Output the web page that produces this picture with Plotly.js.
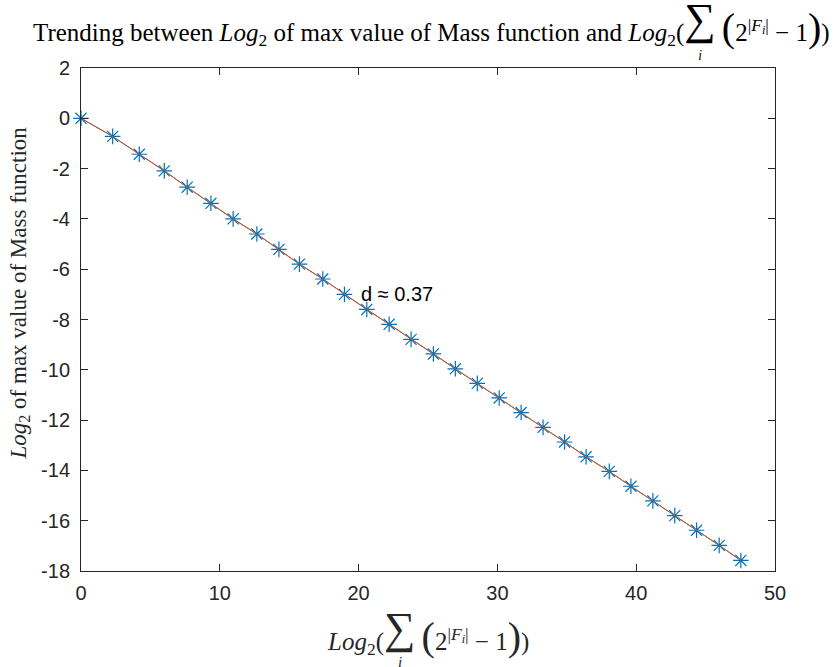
<!DOCTYPE html>
<html>
<head>
<meta charset="utf-8">
<script src="https://cdn.plot.ly/plotly-3.0.1.min.js"></script>
<style>html,body{margin:0;padding:0;background:#fff;}#chart{width:838px;height:667px;}</style>
</head>
<body>
<div id="chart"></div>
<script>
// x: Log2(sum_i (2^|F_i| - 1)),  y: Log2 of max value of Mass function
var xVals = [0, 2.28, 4.20, 6.00, 7.65, 9.36, 10.96, 12.67, 14.26, 15.74,
             17.42, 18.98, 20.59, 22.20, 23.78, 25.39, 26.97, 28.55, 30.13, 31.71,
             33.29, 34.84, 36.39, 38.06, 39.62, 41.20, 42.78, 44.35, 45.98, 47.54];
var yVals = [0, -0.72, -1.43, -2.09, -2.74, -3.38, -4.00, -4.60, -5.21, -5.80,
             -6.39, -7.00, -7.60, -8.19, -8.79, -9.37, -9.96, -10.54, -11.12, -11.70,
             -12.29, -12.87, -13.46, -14.04, -14.63, -15.21, -15.80, -16.38, -16.98, -17.58];
var xTicks = [0, 10, 20, 30, 40, 50];
var xTickText = ['0', '10', '20', '30', '40', '50'];
var yTicks = [2, 0, -2, -4, -6, -8, -10, -12, -14, -16, -18];
var yTickText = ['2', '0', '-2', '-4', '-6', '-8', '-10', '-12', '-14', '-16', '-18'];
var noteX = 20, noteY = -7, noteText = 'd \u2248 0.37';

var axisColor = '#262626';
var traces = [
  {x: xVals, y: yVals, type: 'scatter', mode: 'lines+markers', cliponaxis: false,
   line: {color: '#0072BD', width: 1},
   marker: {symbol: 'asterisk-open', size: 13, line: {color: '#0072BD', width: 1.2}, color: '#0072BD'}},
  {x: xVals, y: yVals, type: 'scatter', mode: 'lines', cliponaxis: false,
   line: {color: '#D95319', width: 1}}
];

var serif = 'Liberation Serif, Times New Roman, serif';
var sumExpr = '<i>Log</i><sub>2</sub>(<span style="font-size:44px;baseline-shift:7px">\u2211</span> <span style="font-size:40px">(</span>2<sup>|<i>F<sub>i</sub></i>|</sup> \u2212 1<span style="font-size:40px">)</span>)';

var M = {l: 81, r: 63, t: 68, b: 96};
var W = 838, H = 667;
var pw = W - M.l - M.r, ph = H - M.t - M.b;
var layout = {
  width: W, height: H,
  margin: M,
  paper_bgcolor: '#fff', plot_bgcolor: '#fff',
  showlegend: false,
  font: {family: 'Liberation Sans, Arial, sans-serif', size: 20, color: axisColor},
  xaxis: {range: [0, 50], tickvals: xTicks, ticktext: xTickText, ticks: 'inside', ticklen: 7,
          tickcolor: axisColor, showline: true, linecolor: axisColor, linewidth: 1, mirror: 'ticks',
          showgrid: false, zeroline: false, ticklabelstandoff: 4, fixedrange: true},
  yaxis: {range: [-18, 2], tickvals: yTicks, ticktext: yTickText, ticks: 'inside', ticklen: 7,
          tickcolor: axisColor, showline: true, linecolor: axisColor, linewidth: 1, mirror: 'ticks',
          showgrid: false, zeroline: false, ticklabelstandoff: 6, fixedrange: true},
  annotations: [
    {x: noteX, y: noteY, xref: 'x', yref: 'y', text: noteText, showarrow: false,
     xanchor: 'left', yanchor: 'middle', font: {size: 20, color: '#000', family: 'Liberation Sans, Arial, sans-serif'}},
    {x: 0.5, y: 1, xref: 'paper', yref: 'paper', yshift: 46, xshift: 3, xanchor: 'center', yanchor: 'middle',
     showarrow: false, text: 'Trending between <i>Log</i><sub>2</sub> of max value of Mass function and ' + sumExpr,
     font: {family: serif, size: 25, color: '#000'}},
    {x: 0.5, y: 0, xref: 'paper', yref: 'paper', yshift: -60, xanchor: 'center', yanchor: 'middle',
     showarrow: false, text: sumExpr, font: {family: serif, size: 25, color: '#262626'}},
    {x: 0, y: 0.5, xref: 'paper', yref: 'paper', xshift: -62, yshift: 26, xanchor: 'center', yanchor: 'middle',
     textangle: -90, showarrow: false, text: '<i>Log</i><sub>2</sub> of max value of Mass function',
     font: {family: serif, size: 23, color: '#262626'}}
  ]
};
// pixel rows (from the top) where the small "i" under each summation sign starts
var subRows = [45, 652];
Plotly.newPlot('chart', traces, layout, {staticPlot: true}).then(function () {
  var gd = document.getElementById('chart');
  var extra = [];
  var full = gd.getBoundingClientRect();
  var n = 0;
  gd.querySelectorAll('.annotation-text').forEach(function (t) {
    t.querySelectorAll('tspan').forEach(function (ts) {
      if (ts.textContent === '\u2211' && n < subRows.length) {
        var r = ts.getBoundingClientRect();
        var cx = r.left + r.width / 2 - full.left;
        extra.push({x: (cx - M.l) / pw, y: (H - M.b - subRows[n]) / ph, xref: 'paper', yref: 'paper',
          xanchor: 'center', yanchor: 'top', showarrow: false, text: '<i>i</i>',
          font: {family: serif, size: 15, color: '#262626'}});
        n++;
      }
    });
  });
  if (extra.length) {
    Plotly.relayout(gd, {annotations: layout.annotations.concat(extra)});
  }
});
</script>
</body>
</html>
